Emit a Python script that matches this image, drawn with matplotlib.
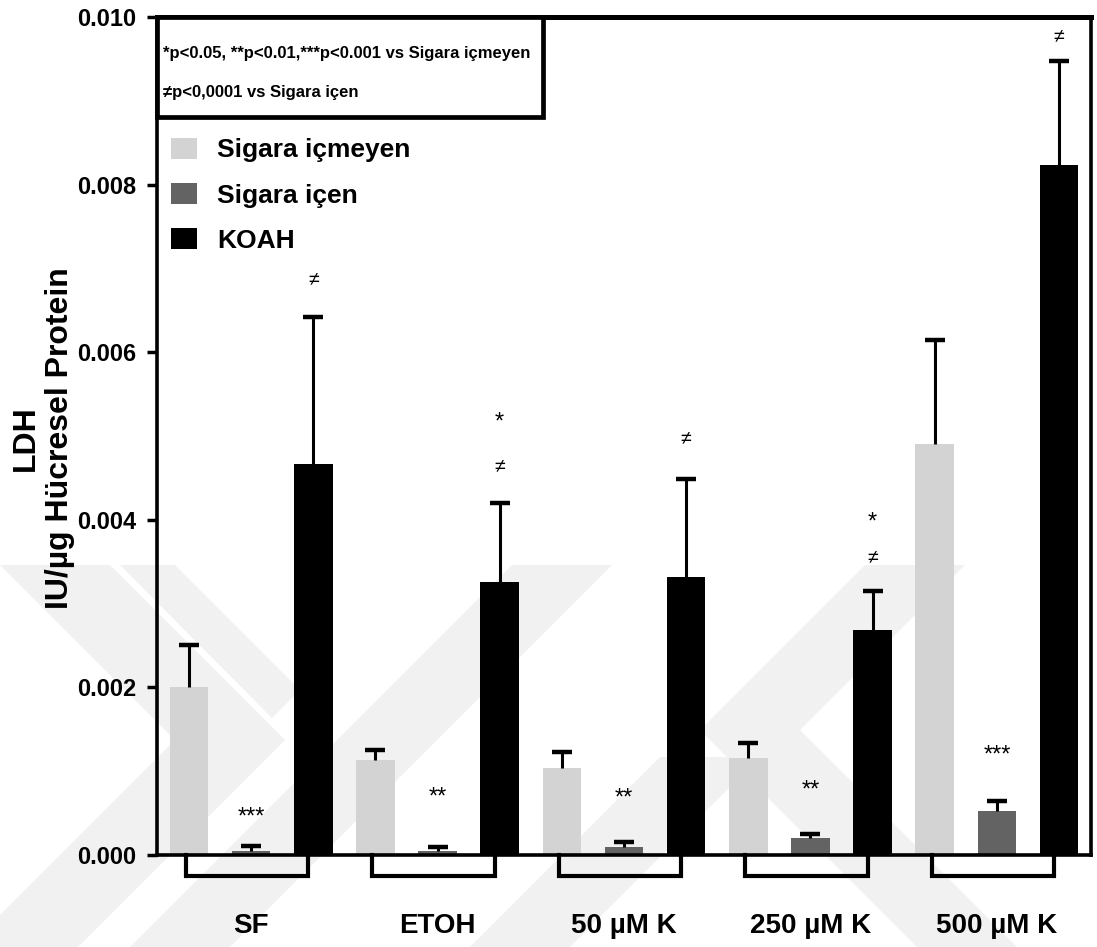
import matplotlib
matplotlib.use("Agg")
import matplotlib.pyplot as plt
from matplotlib.patches import Rectangle, Polygon, Patch
import numpy as np

plt.rcParams["font.family"] = ["Liberation Sans", "DejaVu Sans"]
plt.rcParams["font.weight"] = "bold"

# LDH per ug cellular protein, mean and SEM per group
groups = ["SF", "ETOH", "50 µM K", "250 µM K", "500 µM K"]
series = ["Sigara içmeyen", "Sigara içen", "KOAH"]

icmeyen_mean = [0.00200, 0.00113, 0.00104, 0.00116, 0.00491]
icmeyen_sem = [0.00051, 0.00012, 0.00019, 0.00018, 0.00124]
icen_mean = [0.00005, 0.00005, 0.00010, 0.00020, 0.00053]
icen_sem = [0.00006, 0.00005, 0.00006, 0.00005, 0.00011]
koah_mean = [0.00466, 0.00326, 0.00332, 0.00269, 0.00823]
koah_sem = [0.00176, 0.00094, 0.00117, 0.00046, 0.00124]

# significance marks
icen_sig = ["***", "**", "**", "**", "***"]
koah_star = ["", "*", "", "*", ""]
koah_neq = ["≠", "≠", "≠", "≠", "≠"]

note_lines = ["*p<0.05, **p<0.01,***p<0.001 vs Sigara içmeyen",
              "≠p<0,0001 vs Sigara içen"]

colors = ["#d3d3d3", "#636363", "#000000"]
W, H = 1097, 947

fig = plt.figure(figsize=(W / 100, H / 100), dpi=100)
fig.patch.set_facecolor("white")

# faint background watermark bands (pixel coords, y down)
wm = [
    [(0, 565), (110, 565), (285, 740), (78, 947), (-32, 947), (175, 740)],
    [(120, 565), (175, 565), (300, 690), (272, 718)],
    [(130, 947), (230, 947), (612, 565), (512, 565)],
    [(700, 730), (865, 565), (965, 565), (800, 730), (1017, 947), (917, 947)],
    [(470, 947), (570, 947), (760, 757), (660, 757)],
]
for pts in wm:
    fig.patches.append(Polygon([(x / W, 1 - y / H) for x, y in pts],
                               closed=True, transform=fig.transFigure,
                               facecolor="#f1f1f1", edgecolor="none", zorder=-5))

ax = fig.add_axes([157 / W, 1 - 855 / H, (1091 - 157) / W, (855 - 17) / H])
ax.set_facecolor("none")

n = len(groups)
means = [icmeyen_mean, icen_mean, koah_mean]
sems = [icmeyen_sem, icen_sem, koah_sem]
for s in range(3):
    x = np.arange(n) * 3 + s
    ax.bar(x, means[s], width=0.62, color=colors[s], zorder=2)
    _, caps, _ = ax.errorbar(x, means[s], yerr=[np.zeros(n), sems[s]], fmt="none",
                             ecolor="black", elinewidth=2.2, capsize=7,
                             capthick=3.2, zorder=3)
    # upper caps only
    caps[0].set_visible(False)

# annotations above the error bars (offsets in points)
icen_off = [20, 35, 31, 31, 33]
neq_off = [27, 26, 29, 24, 18]
star_off = [0, 58, 0, 49, 0]
for g in range(n):
    top = icen_mean[g] + icen_sem[g]
    ax.annotate(icen_sig[g], (g * 3 + 1, top), xytext=(0, icen_off[g]),
                textcoords="offset points", ha="center", va="center",
                fontsize=17, fontweight="normal")
    top = koah_mean[g] + koah_sem[g]
    ax.annotate(koah_neq[g], (g * 3 + 2, top), xytext=(0, neq_off[g]),
                textcoords="offset points", ha="center", va="center",
                fontsize=14, fontweight="normal")
    if koah_star[g]:
        ax.annotate(koah_star[g], (g * 3 + 2, top), xytext=(0, star_off[g]),
                    textcoords="offset points", ha="center", va="center",
                    fontsize=17, fontweight="normal")

# brackets under each group
for g in range(n):
    x0, x1 = g * 3 - 0.05, g * 3 + 1.92
    ax.plot([x0, x0, x1, x1], [0, -0.00025, -0.00025, 0], color="black",
            lw=3, clip_on=False, solid_joinstyle="miter", zorder=4)

ax.set_xlim(-0.515, 3 * n - 0.485)
ax.set_ylim(0, 0.010)
ax.set_yticks(np.arange(0, 0.0101, 0.002))
ax.set_yticklabels([f"{v:.3f}" for v in np.arange(0, 0.0101, 0.002)])
ax.tick_params(axis="y", length=7, width=2.5, labelsize=17, pad=8)
ax.set_xticks(np.arange(n) * 3 + 1)
ax.set_xticklabels(groups)
ax.tick_params(axis="x", length=0, labelsize=20, pad=42)

for side in ["left", "right", "bottom"]:
    ax.spines[side].set_linewidth(2.6)
ax.spines["top"].set_linewidth(3.6)

# p-value note box
box_r = (543 - 157) / (1091 - 157)
box_b = (855 - 117) / (855 - 17)
ax.add_patch(Rectangle((0, box_b), box_r, 1 - box_b, transform=ax.transAxes,
                       facecolor="white", edgecolor="black", lw=3.4,
                       clip_on=False, zorder=5))
ax.text(0.006, (855 - 53) / 838, note_lines[0], transform=ax.transAxes,
        fontsize=12, va="center", ha="left", zorder=6)
ax.text(0.006, (855 - 92) / 838, note_lines[1], transform=ax.transAxes,
        fontsize=12, va="center", ha="left", zorder=6)

handles = [Patch(facecolor=c, edgecolor="none") for c in colors]
ax.legend(handles, series, loc="upper left", bbox_to_anchor=(0.015, 0.856),
          frameon=False, fontsize=19, handlelength=1.0, handleheight=0.85,
          handletextpad=0.75, labelspacing=0.78, borderpad=0, borderaxespad=0)

fig.text(43 / W, 1 - 438 / H, "LDH\nIU/µg Hücresel Protein", rotation=90,
         ha="center", va="center", multialignment="center", fontsize=23,
         linespacing=1.2)

fig.savefig("out.png", dpi=100)
